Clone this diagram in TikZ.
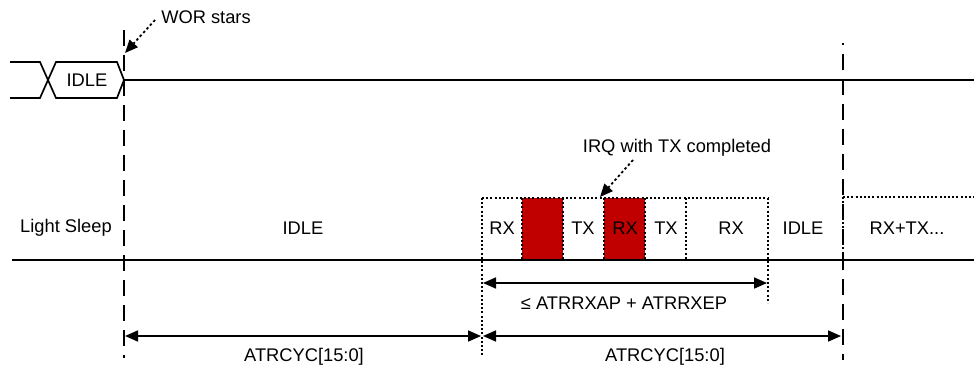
\documentclass[tikz,border=0pt]{standalone}
\usepackage{fontspec}
\setmainfont{Liberation Sans}
\usetikzlibrary{arrows.meta}
\definecolor{rxred}{RGB}{192,0,0}
\begin{document}
\begin{tikzpicture}[x=1pt,y=-1pt,
  sig/.style={line width=1.7pt, line join=miter},
  vdash/.style={line width=1.8pt, dash pattern=on 16pt off 9pt},
  vdot/.style={line width=1.8pt, dash pattern=on 2pt off 2.2pt},
  lbl/.style={font=\fontsize{18.3}{20}\selectfont, inner sep=0pt},
  dimarrow/.style={line width=1.7pt, {Triangle[length=13pt,width=11pt]}-{Triangle[length=13pt,width=11pt]}},
  callout/.style={line width=1.8pt, dash pattern=on 2.5pt off 2.5pt, -{Triangle[length=13pt,width=11pt]}},
  redbox/.style={fill=rxred, draw=none}
]
\useasboundingbox (0,0) rectangle (974,368);

% red boxes
\fill[redbox] (522,198) rectangle (563,260);
\fill[redbox] (604,198) rectangle (645,260);

% dotted box structure
\draw[vdot] (482,198) -- (768,198);
\draw[vdot] (482,198) -- (482,355);
\draw[vdot] (522,198) -- (522,260);
\draw[vdot] (563,198) -- (563,260);
\draw[vdot] (604,198) -- (604,260);
\draw[vdot] (645,198) -- (645,260);
\draw[vdot] (686,198) -- (686,260);
\draw[vdot] (768,198) -- (768,303);
\draw[vdot] (843,197) -- (974,197);
\draw[vdot] (843,197) -- (843,260);

% dashed time markers
\draw[vdash] (124,30) -- (124,358);
\draw[vdash, dash phase=14pt] (843,43) -- (843,360);

% top signal
\draw[sig] (10,62) -- (40,62) -- (56,98) -- (117,98) -- (124,80) -- (117,62) -- (56,62) -- (40,98) -- (10,98);
\draw[sig] (124,80) -- (974,80);
% bottom signal
\draw[sig] (12,260) -- (974,260);

% labels
\node[lbl] (idletop) at (87,80) {IDLE};
\node[lbl] (wor) at (206,17) {WOR stars};
\node[lbl] (irq) at (677,148) {IRQ with TX completed};
\node[lbl] (light) at (66,228) {Light Sleep};
\node[lbl] (idle1) at (303,228) {IDLE};
\node[lbl] (rx1) at (502,228) {RX};
\node[lbl] (tx1) at (583,228) {TX};
\node[lbl] (rx2) at (625,228) {RX};
\node[lbl] (tx2) at (666,228) {TX};
\node[lbl] (rx3) at (731,228) {RX};
\node[lbl] (idle2) at (803,228) {IDLE};
\node[lbl] (rxtx) at (907,228) {RX+TX...};
\node[lbl] (le) at (624,303) {≤ ATRRXAP + ATRRXEP};
\node[lbl] (cyc1) at (304,357) {ATRCYC[15:0]};
\node[lbl] (cyc2) at (665,357) {ATRCYC[15:0]};

% connector coordinates
\coordinate (worS) at (155,20);
\coordinate (worE) at (125,53);
\coordinate (irqS) at (633,160);
\coordinate (irqE) at (600,197);
\coordinate (a1) at (125,336);
\coordinate (a2) at (481,336);
\coordinate (b1) at (483,336);
\coordinate (b2) at (841,336);
\coordinate (c1) at (483,283);
\coordinate (c2) at (767,283);

\draw[callout] (worS) -- (worE);
\draw[callout] (irqS) -- (irqE);
\draw[dimarrow] (a1) -- (a2);
\draw[dimarrow] (b1) -- (b2);
\draw[dimarrow] (c1) -- (c2);
\end{tikzpicture}
\end{document}
